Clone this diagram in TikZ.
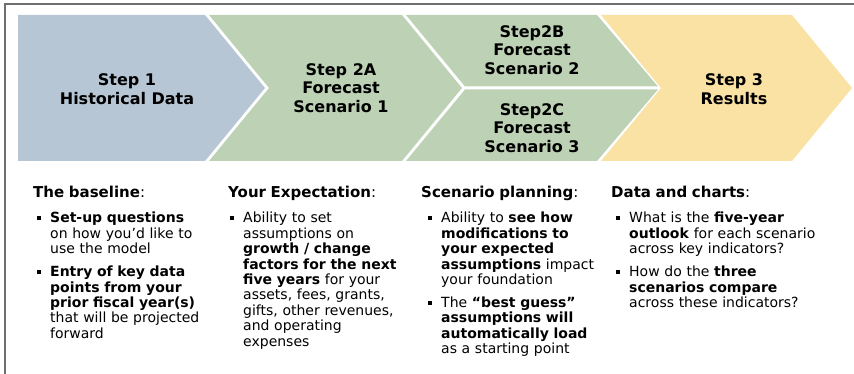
\documentclass[tikz,border=0pt]{standalone}
\usepackage{fontspec}
\setmainfont{DejaVu Sans}
\definecolor{stepblue}{HTML}{B7C6D5}
\definecolor{stepgreen}{HTML}{BDD1B5}
\definecolor{stepyellow}{HTML}{FAE1A4}
\definecolor{framegray}{HTML}{6E6E6E}
\newlength\bindent
\newcommand{\hd}[1]{{\fontsize{15}{15.4}\selectfont\textbf{#1}:}\par}
\newcommand{\bitem}[1]{{\leftskip=\bindent\noindent\llap{\raisebox{3pt}{\rule{4pt}{4pt}}\hspace{9pt}}#1\par}}
\newcommand{\gapA}{\vspace{10pt}}
\newcommand{\gapB}{\vspace{7.6pt}}
\tikzset{
  steptext/.style={align=center, inner sep=0pt, font=\fontsize{16}{18.5}\selectfont\bfseries},
  col/.style={anchor=north west, inner sep=0pt, text width=215pt, align=left,
    font=\fontsize{14}{15.4}\selectfont},
}
\begin{document}
\begin{tikzpicture}[x=1pt,y=-1pt]
\useasboundingbox (0,0) rectangle (854,374);
% frame
\draw[framegray, line width=1.5pt] (5,374) -- (5,4) -- (854,4);
% chevrons
\fill[stepblue] (18,15) -- (205,15) -- (265,88) -- (205,161) -- (18,161) -- cycle;
\fill[stepgreen] (209,15) -- (402,15) -- (462,88) -- (402,161) -- (209,161) -- (269,88) -- cycle;
\fill[stepgreen] (406,15) -- (597,15) -- (658,86.5) -- (465,86.5) -- cycle;
\fill[stepgreen] (465,89.5) -- (658,89.5) -- (597,161) -- (406,161) -- cycle;
\fill[stepyellow] (601,15) -- (792,15) -- (852,88) -- (792,161) -- (601,161) -- (661,88) -- cycle;
% step labels
\node[steptext] (s1) at (127,89) {Step 1\\Historical Data};
\node[steptext] (s2a) at (341,88) {Step 2A\\Forecast\\Scenario 1};
\node[steptext] (s2b) at (532,50) {Step2B\\Forecast\\Scenario 2};
\node[steptext] (s2c) at (532,128) {Step2C\\Forecast\\Scenario 3};
\node[steptext] (s3) at (734,89) {Step 3\\Results};
% columns
\node[col] (c1) at (33,186) {\setlength\bindent{17pt}\hd{The baseline}\gapA
  \bitem{\textbf{Set-up questions}\\on how you’d like to\\use the model}\gapB
  \bitem{\textbf{Entry of key data}\\\textbf{points from your}\\\textbf{prior fiscal year(s)}\\that will be projected\\forward}};
\node[col] (c2) at (228,186) {\setlength\bindent{15pt}\hd{Your Expectation}\gapA
  \bitem{Ability to set\\assumptions on\\\textbf{growth / change}\\\textbf{factors for the next}\\\textbf{five years} for your\\assets, fees, grants,\\gifts, other revenues,\\and operating\\expenses}};
\node[col] (c3) at (421,186) {\setlength\bindent{20pt}\hd{Scenario planning}\gapA
  \bitem{Ability to \textbf{see how}\\\textbf{modifications to}\\\textbf{your expected}\\\textbf{assumptions} impact\\your foundation}\gapB
  \bitem{The \textbf{“best guess”}\\\textbf{assumptions will}\\\textbf{automatically load}\\as a starting point}};
\node[col] (c4) at (611,186) {\setlength\bindent{18pt}\hd{Data and charts}\gapA
  \bitem{What is the \textbf{five-year}\\\textbf{outlook} for each scenario\\across key indicators?}\gapB
  \bitem{How do the \textbf{three}\\\textbf{scenarios compare}\\across these indicators?}};
\end{tikzpicture}
\end{document}
